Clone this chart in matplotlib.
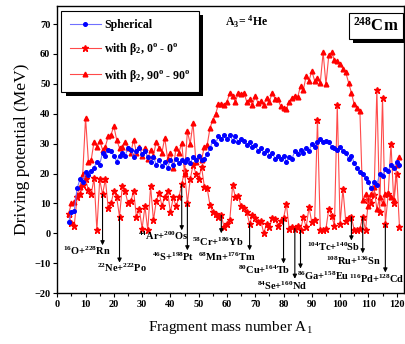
import matplotlib
matplotlib.use("Agg")
import matplotlib.pyplot as plt
import matplotlib.patheffects as pe
from matplotlib.ticker import MultipleLocator
from matplotlib.lines import Line2D

plt.rcParams['font.family'] = ['Liberation Serif', 'DejaVu Serif']
plt.rcParams['mathtext.fontset'] = 'custom'
plt.rcParams['mathtext.rm'] = 'Liberation Serif'

# ---------------- data ----------------
A = list(range(4, 122))

spherical = [
    3.8, 7.0, 7.5, 15.0, 18.0, 17.0,                               # 4-9
    20.5, 19.5, 21.0, 22.0, 24.0, 23.0, 27.0, 26.0, 28.0, 27.5,    # 10-19
    26.0, 24.0, 26.0, 27.0, 26.0, 28.5, 28.0, 25.5, 27.5, 28.5,    # 20-29
    26.5, 27.5, 25.5, 24.0, 25.5, 23.0, 24.5, 22.5, 24.0, 22.0,    # 30-39
    24.5, 23.0, 25.0, 23.5, 24.5, 24.0, 25.0, 23.5, 25.5, 24.5,    # 40-49
    26.0, 24.5, 25.0, 26.5, 28.5, 31.0, 30.0, 32.5, 31.5, 33.0,    # 50-59
    31.5, 33.0, 31.0, 32.5, 30.5, 31.5, 31.0, 29.5, 30.5, 29.0,    # 60-69
    29.5, 27.5, 28.5, 27.0, 28.0, 26.0, 27.0, 25.0, 26.0, 25.0,    # 70-79
    26.0, 24.0, 25.5, 25.0, 27.5, 26.5, 28.0, 27.0, 28.5, 27.5,    # 80-89
    30.0, 29.0, 30.5, 31.5, 30.5, 31.0, 30.5, 29.0, 28.5, 28.0,    # 90-99
    29.0, 27.5, 27.0, 25.0, 26.0, 23.5, 22.0, 20.5, 20.0, 18.5,    # 100-109
    17.0, 15.0, 17.0, 16.0, 20.0, 19.0, 21.5, 21.0, 23.0, 22.0,    # 110-119
    24.0, 23.0,                                                    # 120-121
]

beta_0_0 = [
    6.5, 3.3, 2.6, 12.0, 13.0, 16.0,                               # 4-9
    18.0, 14.5, 13.0, 18.5, 1.0, 18.0, 13.0, 18.0, 8.6, 10.0,      # 10-19
    14.0, 12.0, 5.6, 15.8, 14.0, 10.0, 10.8, 14.0, 5.4, 8.0,       # 20-29
    1.6, 9.0, 1.0, 15.8, 4.3, 10.8, 13.5, 9.2, 12.0, 14.0,         # 30-39
    7.0, 12.0, 9.0, 12.0, 16.4, 21.0, 10.0, 18.0, 23.0, 20.0,      # 40-49
    18.0, 22.3, 15.6, 15.0, 9.4, 7.0, 6.5, 5.4, 6.0, 2.0,          # 50-59
    3.2, 4.5, 16.0, 12.0, 12.5, 9.0, 8.5, 7.0, 3.2, 6.0,           # 60-69
    5.0, 3.7, 4.0, 0.1, 3.0, 2.0, 5.0, 4.9, 2.5, 4.0,              # 70-79
    5.0, 9.8, 1.5, 2.0, 1.6, 2.5, 1.0, 5.4, 2.0, 8.7,              # 80-89
    3.7, 4.5, 38.0, 1.0, 1.0, 1.5, 8.2, 5.9, 2.6, 43.0,            # 90-99
    3.2, 14.8, 4.0, 5.0, 5.5, 1.0, 1.0, 1.5, 5.5, 1.0,             # 100-109
    11.0, 10.0, 12.8, 48.0, 7.0, 45.4, 3.0, 13.0, 30.0, 10.0,      # 110-119
    20.0, 2.0,                                                     # 120-121
]

beta_90_90 = [
    6.6, 10.0, 10.5, 12.8, 15.6, 20.0,                             # 4-9
    38.6, 24.0, 24.6, 30.7, 29.0, 31.0, 28.0, 29.0, 32.4, 33.0,    # 10-19
    35.8, 31.3, 28.5, 29.0, 30.7, 28.5, 27.0, 31.3, 27.0, 29.0,    # 20-29
    26.0, 28.5, 25.0, 28.0, 26.0, 30.7, 28.5, 27.0, 31.9, 25.0,    # 30-39
    26.8, 22.0, 28.5, 27.0, 30.2, 20.0, 34.1, 30.0, 36.9, 24.0,    # 40-49
    25.7, 24.5, 29.0, 29.5, 35.2, 38.0, 40.0, 43.1, 43.1, 43.0,    # 50-59
    44.0, 47.0, 45.9, 44.0, 47.0, 46.5, 47.0, 44.0, 44.8, 43.0,    # 60-69
    45.9, 43.5, 44.2, 43.0, 45.3, 44.0, 47.0, 45.0, 44.8, 42.5,    # 70-79
    42.0, 41.5, 44.0, 45.3, 46.0, 45.5, 49.3, 48.0, 52.6, 51.0,    # 80-89
    54.3, 51.0, 52.0, 50.4, 60.5, 49.8, 59.5, 60.5, 58.0, 57.5,    # 90-99
    56.6, 55.0, 53.8, 50.4, 47.0, 43.1, 42.0, 40.8, 11.0, 13.0,    # 100-109
    9.0, 13.0, 15.5, 8.0, 12.0, 10.0, 13.0, 13.5, 12.0, 11.0,      # 110-119
    23.0, 25.5,                                                    # 120-121
]

series_labels = ['Spherical',
                 r'with β$\mathregular{_2}$, 0$\mathregular{^o}$ - 0$\mathregular{^o}$',
                 r'with β$\mathregular{_2}$, 90$\mathregular{^o}$ - 90$\mathregular{^o}$']

# decay channels marked with arrows: (fragment A1, label)
channel_A = [16, 22, 44, 46, 58, 68, 80, 84, 86, 104, 108, 116]
channel_labels = [
    r'$\mathregular{^{16}}$O+$\mathregular{^{228}}$Rn',
    r'$\mathregular{^{22}}$Ne+$\mathregular{^{222}}$Po',
    r'$\mathregular{^{44}}$Ar+$\mathregular{^{200}}$Os',
    r'$\mathregular{^{46}}$S+$\mathregular{^{198}}$Pt',
    r'$\mathregular{^{58}}$Cr+$\mathregular{^{186}}$Yb',
    r'$\mathregular{^{68}}$Mn+$\mathregular{^{176}}$Tm',
    r'$\mathregular{^{80}}$Cu+$\mathregular{^{164}}$Tb',
    r'$\mathregular{^{84}}$Se+$\mathregular{^{160}}$Nd',
    r'$\mathregular{^{86}}$Ga+$\mathregular{^{158}}$Eu',
    r'$\mathregular{^{104}}$Tc+$\mathregular{^{140}}$Sb',
    r'$\mathregular{^{108}}$Ru+$\mathregular{^{136}}$Sn',
    r'$\mathregular{^{116}}$Pd+$\mathregular{^{128}}$Cd',
]

# ---------------- layout ----------------
arrow_head_y = [-4.0, -9.8, 1.0, -5.7, 0.0, -5.7, -10.1, -15.2, -11.8, -2.4, -6.7, -13.1]
label_pos = [(2.0, -5.7), (14.0, -11.4), (28.6, -1.0), (33.4, -8.0), (47.6, -2.9),
             (49.7, -7.7), (63.9, -12.1), (70.6, -17.5), (84.7, -14.1), (88.3, -4.4),
             (95.0, -9.1), (103.2, -15.2)]

fig = plt.figure(figsize=(4.06, 3.44), dpi=100)
ax = fig.add_axes([0.1411, 0.148, 0.854, 0.8343])

blue, blue_line = '#0000ff', '#7070ff'
red, red_line = '#ff0000', '#ff4a4a'

ax.plot(A, spherical, color=blue_line, lw=0.8, marker='o', ms=2.6,
        mfc=blue, mec=blue, zorder=3)
ax.plot(A, beta_0_0, color=red_line, lw=0.8, marker='*', ms=4.6,
        mfc=red, mec=red, zorder=2)
ax.plot(A, beta_90_90, color=red_line, lw=0.8, marker='^', ms=3.4,
        mfc=red, mec=red, zorder=2)

for a, hy, lab, (tx, ty) in zip(channel_A, arrow_head_y, channel_labels, label_pos):
    y0 = beta_0_0[A.index(a)]
    ax.annotate('', xy=(a, hy), xytext=(a, y0),
                arrowprops=dict(arrowstyle='-|>', color='k', lw=0.8,
                                mutation_scale=6, shrinkA=0, shrinkB=0),
                zorder=4)
    ax.text(tx, ty, lab, fontsize=7.5, fontweight='bold', ha='left', va='center', zorder=5)

ax.set_xlim(0, 122.6)
ax.set_ylim(-20, 76)
ax.xaxis.set_major_locator(MultipleLocator(10))
ax.xaxis.set_minor_locator(MultipleLocator(5))
ax.yaxis.set_major_locator(MultipleLocator(10))
ax.tick_params(axis='both', which='major', direction='out', length=3, width=0.8,
               labelsize=7.5, pad=2)
ax.tick_params(axis='both', which='minor', direction='out', length=2, width=0.8)
for lbl in ax.get_xticklabels() + ax.get_yticklabels():
    lbl.set_fontweight('bold')
for s in ax.spines.values():
    s.set_linewidth(1.0)

ax.set_xlabel(r'Fragment mass number A$\mathregular{_1}$', fontsize=11, labelpad=7)
ax.set_ylabel('Driving potential (MeV)', fontsize=12.5, labelpad=3)

# legend with shadow
handles = [
    Line2D([], [], color=blue_line, lw=0.8, marker='o', ms=2.6, mfc=blue, mec=blue),
    Line2D([], [], color=red_line, lw=0.8, marker='*', ms=4.6, mfc=red, mec=red),
    Line2D([], [], color=red_line, lw=0.8, marker='^', ms=3.4, mfc=red, mec=red),
]
leg = ax.legend(handles, series_labels, loc='upper left', bbox_to_anchor=(0.012, 0.983),
                prop={'weight': 'bold', 'size': 8.6}, frameon=True, fancybox=False,
                edgecolor='k', framealpha=1, handlelength=2.6, labelspacing=0.85,
                borderpad=0.7, handletextpad=0.3, numpoints=1, borderaxespad=0)
leg.get_frame().set_linewidth(0.8)
leg.get_frame().set_path_effects([pe.withSimplePatchShadow(offset=(3, -3), shadow_rgbFace='k', alpha=1)])

ax.text(59.3, 70.8, r'A$\mathregular{_3}$= $\mathregular{^4}$He', fontsize=8.5,
        fontweight='bold', ha='left', va='center')

t = ax.text(112.6, 69.3, r'$\mathregular{^{248}}$Cm', fontsize=12, fontweight='bold',
            ha='center', va='center',
            bbox=dict(boxstyle='square,pad=0.25', fc='white', ec='k', lw=0.8))
t.get_bbox_patch().set_path_effects([pe.withSimplePatchShadow(offset=(3, -3), shadow_rgbFace='k', alpha=1)])

fig.savefig('out.png', dpi=100)
